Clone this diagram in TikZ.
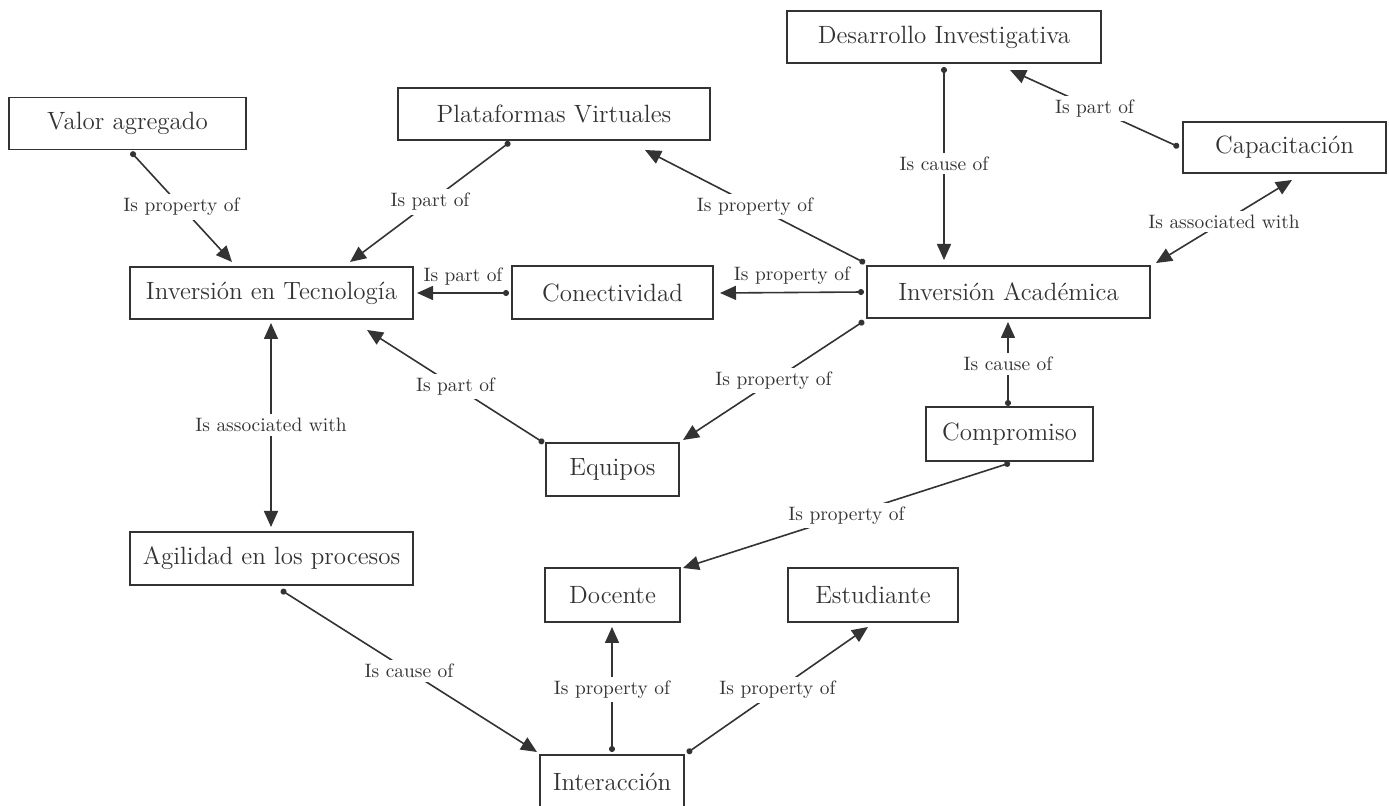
\documentclass[tikz,border=0pt]{standalone}
\usetikzlibrary{arrows.meta,calc}
\definecolor{ink}{HTML}{333333}
\tikzset{
  box/.style={draw=ink, line width=0.8pt, text=ink, font=\fontsize{12.5}{14}\selectfont, inner sep=0pt, minimum height=26pt},
  conn/.style={draw=ink, line width=0.8pt, {Circle[length=3pt]}-{Triangle[length=8pt,width=7pt]}},
  twoway/.style={draw=ink, line width=0.8pt, {Triangle[length=8pt,width=7pt]}-{Triangle[length=8pt,width=7pt]}},
  lbl/.style={fill=white, text=ink, font=\fontsize{9.7}{11}\selectfont, inner xsep=10pt, inner ysep=2pt},
  lab/.style={text=ink, font=\fontsize{9.7}{11}\selectfont, inner sep=1pt}
}
\begin{document}
\begin{tikzpicture}[x=0.5pt,y=-0.5pt]
\useasboundingbox (0,0) rectangle (1389,806);
% nodes
\node[box, minimum width=118.5pt] (VA) at (127.5,123.5) {Valor agregado};
\node[box, minimum width=156pt, minimum height=26pt] (PV) at (554,114) {Plataformas Virtuales};
\node[box, minimum width=157pt] (DI) at (944,37) {Desarrollo Investigativa};
\node[box, minimum width=101.5pt, minimum height=25.5pt] (CA) at (1284.5,147.5) {Capacitación};
\node[box, minimum width=141.5pt] (IT) at (271.5,293) {Inversión en Tecnología};
\node[box, minimum width=100.5pt, minimum height=26.5pt] (CO) at (612.5,292.5) {Conectividad};
\node[box, minimum width=141.5pt] (IA) at (1008.5,292) {Inversión Académica};
\node[box, minimum width=66.5pt, minimum height=26.5pt] (EQ) at (612.5,469.5) {Equipos};
\node[box, minimum width=83.5pt, minimum height=27pt] (CM) at (1009.5,434) {Compromiso};
\node[box, minimum width=141.5pt, minimum height=26.5pt] (AG) at (271.5,558.5) {Agilidad en los procesos};
\node[box, minimum width=67.5pt, minimum height=27pt] (DO) at (612.5,595) {Docente};
\node[box, minimum width=85pt, minimum height=27pt] (ES) at (873,595) {Estudiante};
\node[box, minimum width=72pt, minimum height=26.5pt] (IN) at (612,781.5) {Interacción};
% connectors
\draw[conn] ($(VA)+(3.5,28.5)$) -- ($(IT)+(-39.5,-31)$) node[lbl, midway] {Is property of};
\draw[conn] ($(PV)+(-44,28)$) -- ($(IT)+(78.5,-31)$) node[lbl, midway] {Is part of};
\draw[conn] ($(IA)+(-143.5,-29)$) -- ($(PV)+(91,36)$) node[lbl, midway] {Is property of};
\draw[conn] ($(DI)+(0,30)$) -- ($(IA)+(-64.5,-32)$) node[lbl, midway] {Is cause of};
\draw[conn] ($(CA)+(-105.5,-0.5)$) -- ($(DI)+(66,33)$) node[lbl, midway] {Is part of};
\draw[twoway] ($(IA)+(147.5,-29)$) -- ($(CA)+(7.5,32.5)$) node[lbl, midway] {Is associated with};
\draw[conn] ($(CO)+(-103.5,0.5)$) -- ($(IT)+(145.5,0)$) node[lab, midway, above=2.5pt] {Is part of};
\draw[conn] ($(IA)+(-144.5,0)$) -- ($(CO)+(107.5,0.5)$) node[lab, midway, above=2.5pt] {Is property of};
\draw[conn] ($(IA)+(-144.5,29)$) -- ($(EQ)+(70.5,-29.5)$) node[lbl, midway] {Is property of};
\draw[conn] ($(EQ)+(-68.5,-26.5)$) -- ($(IT)+(95.5,37)$) node[lbl, midway] {Is part of};
\draw[conn] ($(CM)+(-1.5,-28)$) -- ($(IA)+(-0.5,30)$) node[lbl, midway] {Is cause of};
\draw[conn] ($(CM)+(0.5,29)$) -- ($(DO)+(70.5,-27)$) node[lbl, midway] {Is property of};
\draw[twoway] ($(IT)+(-0.5,30)$) -- ($(AG)+(-0.5,-31.5)$) node[lbl, midway] {Is associated with};
\draw[conn] ($(AG)+(9.5,31.5)$) -- ($(IN)+(-75,-29.5)$) node[lbl, midway] {Is cause of};
\draw[conn] ($(IN)+(0,-29.5)$) -- ($(DO)+(-0.5,32)$) node[lbl, midway] {Is property of};
\draw[conn] ($(IN)+(75,-28.5)$) -- ($(ES)+(-5,32)$) node[lbl, midway] {Is property of};
\end{tikzpicture}
\end{document}
